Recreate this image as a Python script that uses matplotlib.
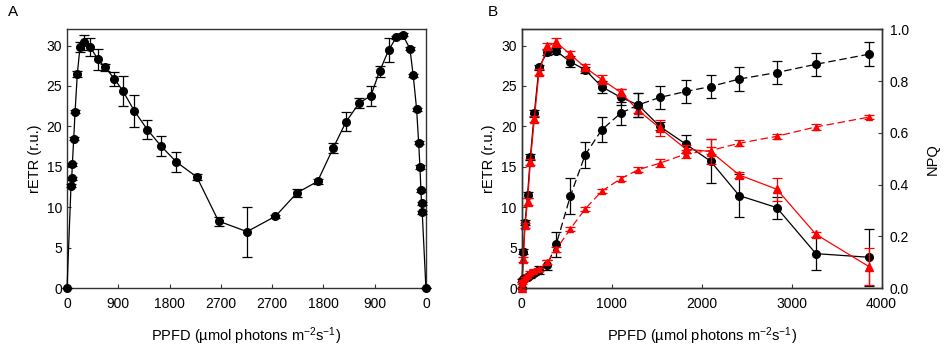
import matplotlib
matplotlib.use('Agg')
import matplotlib.pyplot as plt

plt.rcParams['font.family'] = ['Liberation Sans', 'DejaVu Sans']
plt.rcParams['mathtext.default'] = 'regular'
plt.rcParams['font.size'] = 10

# panel A: light steps going up, then coming back down
ppfd_up = [0, 70, 83, 93, 118, 141, 181, 228, 299, 410, 540, 668, 831, 979,
           1183, 1411, 1647, 1921, 2279, 2659, 3160]
retr_up = [0, 12.7, 13.6, 15.3, 18.5, 21.8, 26.5, 29.8, 30.4, 29.8, 28.3, 27.3,
           25.9, 24.4, 21.9, 19.6, 17.6, 15.6, 13.75, 8.3, 7.0]
err_up = [0, 0.2, 0.2, 0.2, 0.2, 0.2, 0.4, 0.6, 0.9, 1.1, 1.3, 0.45, 0.85, 1.85,
          2.0, 1.2, 1.2, 1.25, 0.35, 0.55, 3.1]

ppfd_down = [2641, 2262, 1903, 1629, 1401, 1169, 967, 814, 656, 522, 409, 281,
             223, 163, 128, 105, 88, 76, 65, 0]
retr_down = [8.9, 11.8, 13.2, 17.3, 20.6, 22.9, 23.8, 26.8, 29.4, 31.0, 31.35,
             29.6, 26.3, 22.1, 18.0, 15.0, 12.1, 10.5, 9.4, 0]
err_down = [0.2, 0.5, 0.35, 0.6, 1.15, 0.65, 1.25, 0.65, 1.5, 0.2, 0.2, 0.2,
            0.2, 0.2, 0.2, 0.2, 0.2, 0.2, 0.2, 0]

tick_labels_A = ['0', '900', '1800', '2700', '2700', '1800', '900', '0']

# panel B
ppfd = [0, 18, 37, 65, 96, 140, 192, 284, 384, 540, 705, 890, 1100, 1295,
        1535, 1826, 2100, 2418, 2835, 3270, 3860]
retr_black = [0, 4.5, 8.1, 11.5, 16.2, 21.6, 27.3, 29.2, 29.3, 28.0, 27.0, 24.9,
              23.6, 22.65, 20.0, 17.8, 15.7, 11.45, 9.97, 4.28, 3.83]
retr_black_err = [0, 0.3, 0.3, 0.4, 0.4, 0.4, 0.3, 0.4, 0.4, 0.65, 0.4, 0.75,
                  1.0, 1.5, 0.5, 1.1, 2.7, 2.7, 1.35, 2.06, 3.5]
retr_red = [0, 3.6, 7.8, 10.7, 15.6, 20.9, 26.7, 29.9, 30.4, 28.9, 27.3, 25.8,
            24.2, 22.0, 19.8, 17.2, 16.9, 14.0, 12.24, 6.67, 2.68]
retr_red_err = [0, 0.3, 0.3, 0.4, 0.4, 0.4, 0.4, 0.4, 0.55, 0.4, 0.4, 0.5,
                0.4, 0.3, 1.0, 0.5, 1.5, 0.4, 1.4, 0.3, 2.3]
npq_black = [0.03, 0.035, 0.04, 0.045, 0.05, 0.06, 0.07, 0.09, 0.17, 0.355,
             0.515, 0.612, 0.676, 0.708, 0.737, 0.76, 0.779, 0.808, 0.833,
             0.865, 0.904]
npq_black_err = [0.005, 0.005, 0.005, 0.005, 0.01, 0.01, 0.015, 0.02, 0.048,
                 0.069, 0.051, 0.048, 0.045, 0.045, 0.045, 0.045, 0.046, 0.048,
                 0.044, 0.045, 0.046]
npq_red = [0.02, 0.03, 0.039, 0.051, 0.062, 0.068, 0.073, 0.1, 0.15, 0.229,
           0.306, 0.375, 0.423, 0.458, 0.483, 0.519, 0.532, 0.56, 0.587,
           0.623, 0.661]
npq_red_err = [0.003, 0.003, 0.004, 0.005, 0.005, 0.005, 0.006, 0.008, 0.01,
               0.008, 0.008, 0.008, 0.01, 0.01, 0.015, 0.015, 0.015, 0.012,
               0.01, 0.01, 0.008]

RED = '#ff0000'
xlabel = 'PPFD (µmol photons m$^{-2}$s$^{-1}$)'

fig = plt.figure(figsize=(9.52, 3.49), dpi=100)
axA = fig.add_axes([0.0704, 0.174, 0.377, 0.742])
axB = fig.add_axes([0.548, 0.174, 0.378, 0.742])


def style(ax, pad=3.5):
    for s in ax.spines.values():
        s.set_color('#333333')
        s.set_linewidth(1.0)
    ax.tick_params(direction='in', length=3, width=0.8, colors='#333333',
                   labelcolor='black', labelsize=10, pad=pad)


# ---- A ----
xA = ppfd_up + [6300 - p for p in ppfd_down]
yA = retr_up + retr_down
eA = err_up + err_down
axA.errorbar(xA, yA, yerr=eA, fmt='o-', color='black', ms=5.5, lw=0.9,
             elinewidth=0.9, capsize=3.5, capthick=0.9, clip_on=False, zorder=3)
axA.set_xlim(0, 6300)
axA.set_ylim(0, 32)
axA.set_xticks([0, 900, 1800, 2700, 3600, 4500, 5400, 6300])
axA.set_xticklabels(tick_labels_A)
axA.set_yticks([0, 5, 10, 15, 20, 25, 30])
style(axA)
axA.tick_params(axis='x', pad=6)
axA.set_ylabel('rETR (r.u.)', fontsize=10.5, labelpad=3)
axA.set_xlabel(xlabel, fontsize=10.5, labelpad=11)
fig.text(0.008, 0.955, 'A', fontsize=11)

# ---- B ----
axN = axB.twinx()
axB.errorbar(ppfd, retr_black, yerr=retr_black_err, fmt='o-', color='black',
             ms=5.5, lw=0.9, elinewidth=0.9, capsize=3.5, capthick=0.9,
             clip_on=False, zorder=3)
axB.errorbar(ppfd, retr_red, yerr=retr_red_err, fmt='^-', color=RED,
             ms=5.5, lw=0.9, elinewidth=0.9, capsize=3.5, capthick=0.9,
             clip_on=False, zorder=4)
axN.errorbar(ppfd, npq_black, yerr=npq_black_err, fmt='o', ls=(0, (6, 3)),
             color='black', ms=5.5, lw=0.9, elinewidth=0.9, capsize=3.5,
             capthick=0.9, clip_on=False, zorder=3)
axN.errorbar(ppfd, npq_red, yerr=npq_red_err, fmt='^', ls=(0, (6, 3)),
             color=RED, ms=5, lw=0.9, elinewidth=0.9, capsize=3.5,
             capthick=0.9, clip_on=False, zorder=4)
axB.set_xlim(0, 4000)
axB.set_ylim(0, 32)
axN.set_ylim(0, 1.0)
axB.set_xticks([0, 1000, 2000, 3000, 4000])
axB.set_yticks([0, 5, 10, 15, 20, 25, 30])
axN.set_yticks([0, 0.2, 0.4, 0.6, 0.8, 1.0])
axN.set_yticklabels(['0.0', '0.2', '0.4', '0.6', '0.8', '1.0'])
style(axB)
style(axN, pad=6)
axB.tick_params(axis='x', pad=6)
axB.set_ylabel('rETR (r.u.)', fontsize=10.5, labelpad=4)
axN.set_ylabel('NPQ', fontsize=10.5, labelpad=12)
axB.set_xlabel(xlabel, fontsize=10.5, labelpad=11)
fig.text(0.512, 0.955, 'B', fontsize=11)

fig.savefig('out.png', dpi=100)
